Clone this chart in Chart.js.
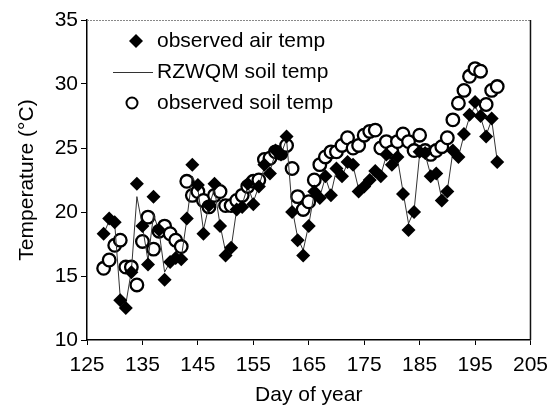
<!DOCTYPE html>
<html>
<head>
<meta charset="utf-8">
<script src="https://cdn.jsdelivr.net/npm/chart.js@4.4.1/dist/chart.umd.min.js"></script>
<style>
  html, body { margin: 0; padding: 0; background: #fff; }
  #wrap { width: 556px; height: 409px; }
</style>
</head>
<body>
<div id="wrap"><canvas id="c" width="556" height="409"></canvas></div>
<script>
const days = [128,129,130,131,132,133,134,135,136,137,138,139,140,141,142,143,144,145,146,147,148,149,150,151,152,153,154,155,156,157,158,159,160,161,162,163,164,165,166,167,168,169,170,171,172,173,174,175,176,177,178,179,180,181,182,183,184,185,186,187,188,189,190,191,192,193,194,195,196,197,198,199];

const airTemp = [18.3,19.5,19.2,13.1,12.5,15.3,22.2,18.9,15.9,21.2,18.6,14.7,16.1,16.4,16.3,19.5,23.7,22.1,18.3,20.5,22.2,18.9,16.6,17.2,20.2,20.4,22.2,20.6,22.0,23.7,23.0,24.8,24.5,25.9,20.0,17.8,16.6,18.9,21.6,21.1,22.8,21.3,23.4,22.8,23.9,23.7,21.6,22.0,22.5,23.2,22.8,24.5,23.7,24.3,21.4,18.6,20.0,24.7,24.6,22.8,23.0,20.9,21.6,24.8,24.3,26.1,27.6,28.6,27.5,25.9,27.3,23.9];

const modelSoil = [18.3,19.3,19.1,13.3,12.8,15.4,21.2,18.9,16.2,19.8,18.5,15.3,16.1,16.4,16.4,19.4,22.8,21.8,18.6,20.5,21.8,19.0,16.9,17.2,20.2,20.6,22.0,20.8,22.0,23.5,23.2,24.6,24.5,25.7,20.3,18.0,17.0,19.0,21.5,21.2,22.7,21.4,23.3,22.8,23.8,23.6,21.8,22.1,22.6,23.2,22.9,24.4,23.8,24.2,21.6,19.1,20.1,24.5,24.5,22.9,23.1,21.0,21.7,24.7,24.3,26.0,27.4,28.3,27.4,26.0,27.2,24.0];

const soilTemp = [15.6,16.25,17.4,17.8,15.7,15.7,14.3,17.7,19.6,17.1,18.5,18.9,18.3,17.8,17.3,22.4,21.3,21.6,20.9,20.4,21.3,21.6,20.5,20.5,20.9,21.3,22.0,22.4,22.5,24.1,24.2,24.7,24.6,25.2,23.4,21.2,20.2,20.8,22.5,23.7,24.3,24.7,24.7,25.2,25.8,25.0,25.2,26.0,26.3,26.4,25.0,25.5,24.7,25.5,26.1,25.5,24.8,26.0,24.8,24.5,24.8,25.1,25.8,27.2,28.5,29.5,30.6,31.2,31.0,28.4,29.5,29.8];

const xTicks = [125,135,145,155,165,175,185,195,205];
const yTicks = [10,15,20,25,30,35];
const seriesLabels = ['observed air temp', 'RZWQM soil temp', 'observed soil temp'];

const FONT = 'Liberation Sans, Arial, Helvetica, sans-serif';
const FS = 21;
const pts = arr => days.map((d, i) => ({ x: d, y: arr[i] }));

const borderPlugin = {
  id: 'boxBorder',
  afterDatasetsDraw(chart) {
    const { ctx, chartArea: a } = chart;
    ctx.save();
    ctx.strokeStyle = '#888';
    ctx.lineWidth = 1;
    ctx.setLineDash([2, 1]);
    ctx.beginPath();
    ctx.moveTo(a.left, a.top + 0.5);
    ctx.lineTo(a.right, a.top + 0.5);
    ctx.stroke();
    ctx.setLineDash([]);
    ctx.strokeStyle = '#111';
    ctx.lineWidth = 1.5;
    ctx.beginPath();
    ctx.moveTo(a.right, a.top);
    ctx.lineTo(a.right, a.bottom);
    ctx.stroke();
    ctx.restore();
  }
};

const legendPlugin = {
  id: 'innerLegend',
  afterDraw(chart) {
    const { ctx } = chart;
    const ds = chart.data.datasets;
    ctx.save();
    ctx.font = FS + 'px ' + FONT;
    ctx.fillStyle = '#000';
    ctx.textBaseline = 'middle';
    ctx.textAlign = 'left';
    const textX = 157;
    const rows = [41, 72, 103];
    // row 1: diamond
    ctx.beginPath();
    const dx = 136, dy = rows[0], r = 7;
    ctx.moveTo(dx, dy - r); ctx.lineTo(dx + r, dy); ctx.lineTo(dx, dy + r); ctx.lineTo(dx - r, dy); ctx.closePath();
    ctx.fill();
    ctx.fillText(ds[0].label, textX, rows[0]);
    // row 2: line
    ctx.strokeStyle = '#333';
    ctx.lineWidth = 1;
    ctx.beginPath();
    ctx.moveTo(113, rows[1] + 0.5); ctx.lineTo(153, rows[1] + 0.5);
    ctx.stroke();
    ctx.fillText(ds[1].label, textX, rows[1]);
    // row 3: circle
    ctx.strokeStyle = '#000';
    ctx.lineWidth = 2;
    ctx.beginPath();
    ctx.arc(132, rows[2], 5.5, 0, Math.PI * 2);
    ctx.stroke();
    ctx.fillText(ds[2].label, textX, rows[2]);
    ctx.restore();
  }
};

new Chart(document.getElementById('c'), {
  type: 'line',
  data: {
    datasets: [
      {
        label: seriesLabels[0],
        data: pts(airTemp),
        showLine: false,
        pointStyle: 'rectRot',
        pointRadius: 7,
        pointBackgroundColor: '#000',
        pointBorderColor: '#000',
        pointBorderWidth: 0,
        order: 1
      },
      {
        label: seriesLabels[1],
        data: pts(modelSoil),
        borderColor: '#333',
        borderWidth: 1,
        pointRadius: 0,
        tension: 0,
        fill: false,
        order: 2
      },
      {
        label: seriesLabels[2],
        data: pts(soilTemp),
        showLine: false,
        pointStyle: 'circle',
        pointRadius: 6.3,
        pointBackgroundColor: '#fff',
        pointBorderColor: '#000',
        pointBorderWidth: 2.3,
        order: 3
      }
    ]
  },
  options: {
    responsive: false,
    animation: false,
    events: [],
    layout: { padding: { top: 20, right: 25, left: 0, bottom: 0 } },
    plugins: { legend: { display: false }, tooltip: { enabled: false } },
    scales: {
      x: {
        type: 'linear',
        min: 125, max: 205,
        afterBuildTicks: s => { s.ticks = xTicks.map(v => ({ value: v })); },
        afterFit: s => { s.height = 69; },
        ticks: { color: '#000', font: { family: FONT, size: FS }, padding: 8, maxRotation: 0 },
        grid: { display: true, drawOnChartArea: false, drawTicks: true, tickLength: 5, color: '#000' },
        border: { display: true, color: '#000', width: 1.5 },
        title: { display: true, text: 'Day of year', color: '#000', font: { family: FONT, size: FS }, padding: { top: 0, bottom: 1 } }
      },
      y: {
        min: 10, max: 35,
        afterBuildTicks: s => { s.ticks = yTicks.map(v => ({ value: v })); },
        afterFit: s => { s.width = 87; },
        ticks: { color: '#000', font: { family: FONT, size: FS }, padding: 3 },
        grid: { display: true, drawOnChartArea: false, drawTicks: true, tickLength: 6, color: '#000' },
        border: { display: true, color: '#000', width: 1.5 },
        title: { display: true, text: 'Temperature (°C)', color: '#000', font: { family: FONT, size: FS }, padding: { top: 15, bottom: 0 } }
      }
    }
  },
  plugins: [borderPlugin, legendPlugin]
});
</script>
</body>
</html>
